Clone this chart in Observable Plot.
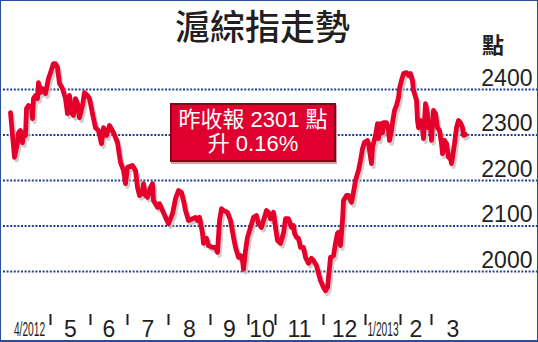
<!DOCTYPE html>
<html><head><meta charset="utf-8">
<script src="https://cdn.jsdelivr.net/npm/d3@7"></script>
<script src="https://cdn.jsdelivr.net/npm/@observablehq/plot@0.6"></script>
<style>
body{margin:0;background:#fff;}
#wrap{position:relative;width:538px;height:342px;overflow:hidden;background:#fff;font-family:"Liberation Sans",Arial,sans-serif;}
#chart{position:absolute;left:0;top:0;}
#title{position:absolute;left:0;top:0;width:525px;text-align:center;font-family:"Noto Sans CJK TC",sans-serif;font-size:35px;line-height:1.45;font-weight:500;color:#231f20;}
#unit{position:absolute;left:482px;top:28px;font-family:"Noto Sans CJK TC",sans-serif;font-size:22px;line-height:1.45;color:#231f20;font-weight:bold;}
#note{position:absolute;left:170px;top:103px;width:166px;height:59px;box-sizing:border-box;background:#e00030;border:2px solid #7d0a16;color:#fff;text-align:center;font-family:"Liberation Sans","Noto Sans CJK TC",sans-serif;font-size:22px;line-height:24px;padding-top:3px;box-shadow:1px 2px 0 #d9a0a8;white-space:nowrap;}
#frame{position:absolute;left:0;top:0;width:538px;height:342px;border:1px solid #2b4c9b;border-bottom-width:2px;box-sizing:border-box;pointer-events:none;}
</style>
</head><body>
<div id="wrap">
  <div id="chart"></div>
  <div id="title">滬綜指走勢</div>
  <div id="unit">點</div>
  <div id="note">昨收報 2301 點<br>升 0.16%</div>
  <div id="frame"></div>
</div>
<script>
const days = [0,2,3.5,4,5,6,6.5,7.5,8,9,10.5,11,11.5,12.5,13.5,14,15,16,17.5,19,20,21.5,22.5,23.5,24.5,26,27.5,28.5,29.5,30.5,31.5,32.5,33.5,34.5,36,37,38.5,39.5,41,42.5,44,45.5,46.5,48,49.5,51.5,53.5,55,56.5,57.5,58.5,61,62.5,63.5,64.5,66,66.5,67.5,68.5,70,71,71.5,73.5,74.5,76,77.5,79,81,82.5,84,85.5,86.5,87.5,89,91,92.5,93.5,94.5,96,96.5,98,99,101,102.5,103.5,104.5,105.5,106.5,108.5,110,111.5,112.5,114,115,116,116.5,117.5,118.5,120,121.5,123,124,125.5,126.5,128,129,130,131.5,132.5,133.5,135,136.5,137.5,139,140.5,141.5,142,143,144,145,146.5,147.5,149,150.5,151.5,153,154,155,156.5,157.5,158.5,159,160,161.5,162.5,163.5,164,165,166,166.5,168,169,170.5,171.5,172.5,173.5,174,175,176,177,178.5,179,180.5,181,182.5,183.5,184,185,186,186.5,188,189,189.5,190.5,191,192,193,194,194.5,195.5,196.5,198,199,200,201,201.5,203,203.5,204,205,206,206.5,207.5,208.5,209,210,210.5,211.5,212.5,213.5,214.5,215.5,216,217,218,219,220,220.5,221,222,223,224,225,226,226.5,227.5];
const close = [2349,2251,2283,2305,2310,2283,2305,2299,2358,2365,2360,2336,2380,2387,2380,2415,2393,2402,2391,2424,2437,2457,2457,2448,2413,2402,2380,2347,2387,2349,2343,2380,2369,2338,2365,2393,2387,2380,2347,2316,2310,2281,2316,2299,2321,2305,2283,2240,2222,2193,2229,2233,2222,2185,2167,2174,2193,2167,2163,2185,2193,2156,2141,2149,2134,2119,2105,2127,2160,2178,2174,2156,2134,2112,2116,2119,2112,2119,2084,2062,2073,2057,2053,2053,2042,2112,2138,2134,2130,2112,2075,2053,2031,2035,2024,2005,2046,2075,2097,2119,2123,2105,2097,2112,2134,2130,2116,2130,2097,2068,2062,2084,2116,2116,2097,2101,2084,2075,2073,2053,2053,2031,2018,2029,2024,2013,1996,1980,1965,1958,1965,1987,2031,2035,2062,2084,2086,2057,2112,2156,2167,2167,2152,2174,2200,2215,2222,2244,2270,2284,2288,2281,2237,2273,2299,2325,2292,2325,2305,2327,2327,2310,2288,2310,2327,2354,2365,2382,2402,2420,2435,2437,2431,2435,2420,2398,2376,2332,2316,2332,2316,2292,2369,2347,2316,2316,2288,2354,2347,2316,2310,2281,2259,2288,2281,2251,2249,2237,2251,2281,2316,2332,2327,2316,2299,2301];
const yTicks = [2000, 2100, 2200, 2300, 2400];
const monthStarts = [-1, 20, 40, 58.5, 79, 100, 119, 132.5, 156.5, 177.5, 195, 210.5, 232];
const monthLabels = ["4/2012", "5", "6", "7", "8", "9", "10", "11", "12", "1/2013", "2", "3"];

const series = days.map((d, i) => ({day: d, close: close[i]}));
const months = monthLabels.map((label, i) => ({label, mid: (monthStarts[i] + monthStarts[i + 1]) / 2}));
const tickDays = monthStarts.slice(1, -1);

const chart = Plot.plot({
  width: 538, height: 342,
  marginLeft: 10, marginRight: 73, marginTop: 89, marginBottom: 71,
  style: {fontFamily: "Liberation Sans, Arial, sans-serif", background: "transparent"},
  x: {domain: [0, 227.5], axis: null},
  y: {domain: [2000, 2400], axis: null},
  marks: [
    Plot.ruleY(yTicks, {y: d => d, stroke: "#1f3f8f", strokeWidth: 2, strokeDasharray: "2,1.6", insetLeft: -7, insetRight: -72}),
    Plot.text(yTicks, {y: d => d, text: d => String(d), frameAnchor: "right", textAnchor: "end", lineAnchor: "bottom", dx: 67, dy: -4, fontSize: 23, fill: "#231f20"}),
    Plot.line(series, {x: "day", y: "close", stroke: "#bdbdbd", strokeOpacity: 0.75, strokeWidth: 4.5, dx: 2, dy: 3, strokeLinejoin: "round", strokeLinecap: "round"}),
    Plot.line(series, {x: "day", y: "close", stroke: "#e4002b", strokeWidth: 4.8, strokeLinejoin: "round", strokeLinecap: "round"}),
    Plot.ruleX(tickDays, {x: d => d, insetTop: 225, insetBottom: -54, stroke: "#231f20", strokeWidth: 2}),
    Plot.text(months.filter(m => !m.label.includes("/")), {x: "mid", text: "label", frameAnchor: "bottom", lineAnchor: "bottom", dy: 65, fontSize: 23, fill: "#231f20"}),
    Plot.text(months.filter(m => m.label.includes("/")), {x: "mid", text: "label", frameAnchor: "bottom", lineAnchor: "bottom", dy: 64, fontSize: 12, fill: "#231f20"})
  ]
});
// the year labels are drawn condensed, as in the reference
chart.querySelectorAll("text").forEach(t => {
  if (t.textContent.includes("/")) {
    const tr = t.getAttribute("transform");
    if (tr && tr.includes("translate")) {
      t.setAttribute("transform", tr + " scale(0.85,1.65)");
    } else {
      const x = +(t.getAttribute("x") || 0), y = +(t.getAttribute("y") || 0);
      t.removeAttribute("x"); t.removeAttribute("y");
      t.setAttribute("transform", `translate(${x},${y}) scale(0.85,1.65)`);
    }
  }
});
document.getElementById("chart").appendChild(chart);
</script>
</body></html>
